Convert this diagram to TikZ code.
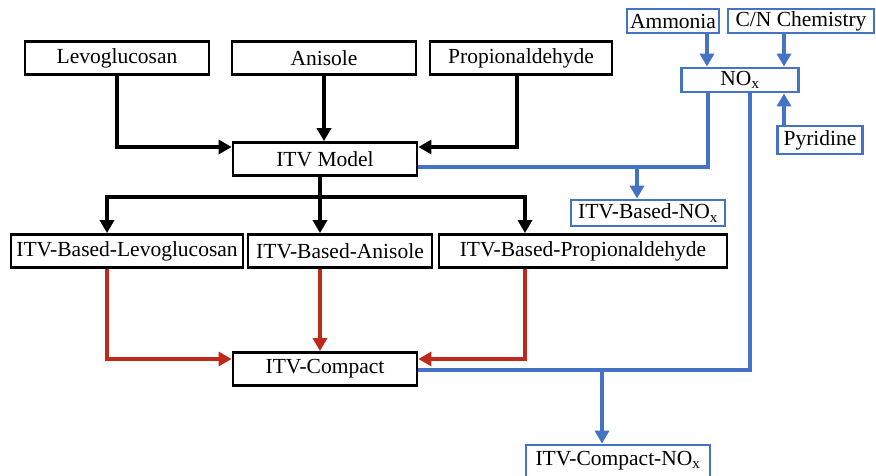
\documentclass[tikz,border=0pt]{standalone}
\usepackage{fontspec}
\setmainfont{Liberation Serif}
\usetikzlibrary{arrows.meta}
\definecolor{noxblue}{RGB}{68,114,196}
\definecolor{cmpred}{RGB}{192,40,28}

\begin{document}
\begin{tikzpicture}[x=1pt,y=-1pt,
  font=\fontsize{21.5}{24}\selectfont,
  box/.style={draw=black,line width=2.8pt,inner sep=0pt,minimum height=33pt},
  bluebox/.style={draw=noxblue,line width=2.8pt,inner sep=0pt},
  link/.style={line width=3.5pt,-{Triangle[length=13pt,width=14pt]}},
  wire/.style={line width=3.5pt}]
\useasboundingbox (0,0) rectangle (876,475);

% feed species
\node[box,minimum width=184pt] (levo) at (117,58) {Levoglucosan};
\node[box,minimum width=184pt] (anis) at (324,58) {Anisole};
\node[box,minimum width=182pt] (prop) at (521,58) {Propionaldehyde};
\node[box,minimum width=184pt] (model) at (325,159) {ITV Model};

% ITV based models
\node[box,minimum width=232pt] (blevo) at (127,251) {ITV-Based-Levoglucosan};
\node[box,minimum width=184pt] (banis) at (340,251) {ITV-Based-Anisole};
\node[box,minimum width=288pt] (bprop) at (583,251) {ITV-Based-Propionaldehyde};
\node[box,minimum width=184pt] (compact) at (325,369) {ITV-Compact};

% NOx part
\node[bluebox,minimum width=92pt,minimum height=24pt] (amm) at (673,21) {Ammonia};
\node[bluebox,minimum width=146pt,minimum height=24pt] (cn) at (801,21) {C/N Chemistry};
\node[bluebox,minimum width=117pt,minimum height=24pt] (nox) at (740,80) {NO\textsubscript{x}};
\node[bluebox,minimum width=85pt,minimum height=28pt] (pyr) at (820,140) {Pyridine};
\node[bluebox,minimum width=154pt,minimum height=26pt] (bnox) at (648,213) {ITV-Based-NO\textsubscript{x}};
\node[bluebox,minimum width=184pt,minimum height=32pt] (cnox) at (618,461) {ITV-Compact-NO\textsubscript{x}};

\coordinate (split) at (320,197);
\coordinate (tobnox) at (637,167);
\coordinate (tocnox) at (602,370);

% black arrows
\draw[link] (levo.south) |- ([yshift=12pt]model.west);
\draw[link] (anis.south) -- (anis.south |- model.north);
\draw[link] ([xshift=-4pt]prop.south) |- ([yshift=12pt]model.east);
\draw[wire] ([xshift=-5pt]model.south) -- (split);
\draw[link] (split) -| ([xshift=-20pt]blevo.north);
\draw[link] (split) -- (split |- banis.north);
\draw[link] (split) -| ([xshift=-58pt]bprop.north);

% red arrows
\draw[link,cmpred] ([xshift=-20pt]blevo.south) |- ([yshift=10pt]compact.west);
\draw[link,cmpred] ([xshift=-20pt]banis.south) -- ([xshift=-5pt]compact.north);
\draw[link,cmpred] ([xshift=-58pt]bprop.south) |- ([yshift=10pt]compact.east);

% blue arrows
\draw[link,noxblue] ([xshift=34pt]amm.south) -- ([xshift=-33pt]nox.north);
\draw[link,noxblue] ([xshift=-17pt]cn.south) -- ([xshift=44pt]nox.north);
\draw[link,noxblue] ([xshift=-36pt]pyr.north) -- ([xshift=44pt]nox.south);
\draw[wire,noxblue] ([yshift=-8pt]model.east) -| ([xshift=-32pt]nox.south);
\draw[link,noxblue] (tobnox) -- (tobnox |- bnox.north);
\draw[wire,noxblue] ([yshift=-1pt]compact.east) -| ([xshift=10pt]nox.south);
\draw[link,noxblue] (tocnox) -- (tocnox |- cnox.north);
\end{tikzpicture}
\end{document}
